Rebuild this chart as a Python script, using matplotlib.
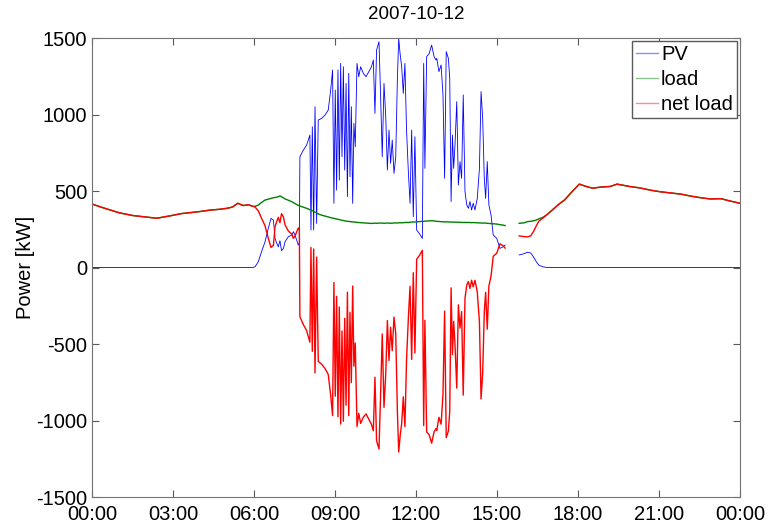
import numpy as np
import matplotlib
matplotlib.use("Agg")
import matplotlib.pyplot as plt

# Data (hours of day, kW)
hours = [
    0.0, 0.33, 0.67, 1.0, 1.5, 2.0, 2.4, 2.9, 3.3, 3.7,
    4.0, 4.4, 4.7, 5.0, 5.2, 5.4, 5.6, 5.8, 5.95,
    6.04, 6.16, 6.28, 6.41, 6.53, 6.63, 6.72, 6.78, 6.84, 6.90,
    6.96, 7.02, 7.09, 7.15, 7.27, 7.40, 7.46, 7.52, 7.58, 7.64, 7.68,
    7.70, 7.83, 7.95, 8.07, 8.11, 8.16, 8.21, 8.26, 8.32, 8.38,
    8.51, 8.63, 8.75, 8.84, 8.91, 8.96, 9.01, 9.06, 9.11, 9.16,
    9.21, 9.26, 9.31, 9.36, 9.41, 9.46, 9.51, 9.555, 9.605, 9.655,
    9.70, 9.75, 9.815, 9.88, 9.95, 10.05, 10.15, 10.25, 10.35, 10.42,
    10.48, 10.54, 10.63, 10.69, 10.75, 10.815, 10.88, 10.94, 11.00, 11.06,
    11.12, 11.185, 11.25, 11.31, 11.36, 11.41, 11.47, 11.53, 11.59, 11.65,
    11.72, 11.78, 11.84, 11.90, 11.96, 12.025, 12.12, 12.235, 12.285, 12.33,
    12.395, 12.49, 12.58, 12.67, 12.74, 12.77, 12.85, 12.93, 13.00, 13.06,
    13.12, 13.20, 13.25, 13.30, 13.35, 13.395, 13.445, 13.51, 13.57, 13.63,
    13.69, 13.75, 13.815, 13.88, 13.94, 14.00, 14.06, 14.12, 14.185, 14.27,
    14.35, 14.41, 14.47, 14.53, 14.58, 14.64, 14.70, 14.78, 14.86, 14.99,
    15.11, 15.235, 15.30,
    15.55,  # missing data
    15.82, 16.00, 16.13, 16.25, 16.35, 16.45, 16.55, 16.70, 16.85, 17.05,
    17.30, 17.50, 17.75, 18.05, 18.30, 18.55, 18.80, 19.20, 19.45, 19.90,
    20.30, 20.70, 21.05, 21.40, 21.80, 22.20, 22.55, 22.90, 23.30, 23.60,
    24.00,
]

pv_kw = [
    0, 0, 0, 0, 0, 0, 0, 0, 0, 0,
    0, 0, 0, 0, 0, 0, 0, 0, 0,
    5, 38, 103, 169, 256, 321, 310, 190, 160, 135,
    175, 110, 125, 169, 201, 212, 234, 212, 180, 147, 160,
    724, 768, 800, 866, 245, 920, 245, 1051, 288, 964,
    975, 996, 1029, 1160, 1291, 419, 1160, 506, 1291, 571,
    1334, 724, 1312, 637, 1203, 463, 1269, 593, 1051, 419,
    942, 789, 1334, 1247, 1312, 1269, 1247, 1280, 1312, 1356,
    1007, 1421, 1476, 1116, 724, 1203, 985, 637, 898, 680,
    833, 615, 724, 1225, 1498, 1399, 1312, 1138, 1334, 898,
    615, 419, 898, 332, 855, 245, 223, 190, 1334, 648,
    1378, 1399, 1454, 1378, 1356, 1367, 1280, 1324, 1128, 583,
    1411, 1367, 1237, 431, 866, 648, 801, 1084, 539, 692,
    583, 1128, 496, 409, 387, 431, 376, 420, 376, 452,
    648, 1150, 975, 583, 452, 692, 409, 343, 213, 191,
    125, 136, 147,
    np.nan,
    82, 90, 100, 95, 70, 40, 15, 5, 0, 0,
    0, 0, 0, 0, 0, 0, 0, 0, 0, 0,
    0, 0, 0, 0, 0, 0, 0, 0, 0, 0,
    0,
]

load_kw = [
    415, 395, 376, 358, 340, 330, 322, 338, 352, 360,
    366, 376, 380, 387, 395, 420, 405, 410, 400,
    400, 408, 425, 441, 447, 452, 456, 458, 460, 463,
    468, 462, 455, 448, 440, 430, 424, 418, 412, 406, 403,
    402, 394, 387, 378, 376, 372, 366, 362, 356, 350,
    342, 336, 330, 326, 323, 321, 319, 317, 315, 313,
    311, 309, 307, 305, 303, 302, 301, 300, 299, 298,
    297, 296, 295, 294, 293, 291, 290, 289, 288, 289,
    290, 289, 290, 291, 290, 289, 290, 291, 290, 289,
    290, 291, 292, 291, 292, 293, 292, 293, 294, 295,
    294, 296, 297, 298, 297, 299, 300, 302, 301, 303,
    304, 305, 306, 304, 303, 302, 301, 300, 299, 298,
    299, 298, 297, 298, 297, 296, 297, 296, 295, 296,
    295, 294, 295, 294, 295, 294, 293, 294, 293, 292,
    292, 291, 290, 291, 290, 289, 288, 287, 286, 284,
    280, 277, 274,
    np.nan,
    289, 292, 300, 302, 305, 310, 318, 328, 345, 376,
    415, 441, 490, 545, 530, 518, 525, 530, 545, 530,
    520, 505, 495, 488, 480, 466, 456, 448, 450, 436,
    420,
]

tick_hours = [0, 3, 6, 9, 12, 15, 18, 21, 24]
tick_labels = ["00:00", "03:00", "06:00", "09:00", "12:00", "15:00", "18:00", "21:00", "00:00"]

t = np.array(hours)
pv = np.array(pv_kw, dtype=float)
load = np.array(load_kw, dtype=float)
net = load - pv

plt.rcParams['font.family'] = ['Liberation Sans', 'DejaVu Sans']
plt.rcParams['axes.unicode_minus'] = False

fig = plt.figure(figsize=(7.68, 5.25), dpi=100)
ax = fig.add_axes([0.1198, 0.0533, 0.8437, 0.8743])

ax.plot(t, pv, color='#0000ff', lw=0.6, label='PV')
ax.plot(t, load, color='#008000', lw=1.0, label='load')
ax.plot(t, net, color='#ff0000', lw=1.0, label='net load')

ax.set_xlim(0, 24)
ax.set_ylim(-1500, 1500)
ax.set_xticks(tick_hours)
ax.set_xticklabels(tick_labels)
ax.set_yticks(np.arange(-1500, 1501, 500))
ax.tick_params(direction='in', top=True, right=True, length=5, labelsize=14.5, colors='0.35', labelcolor='black')
ax.tick_params(axis='x', pad=6)
for sp in ax.spines.values():
    sp.set_color('0.45')

ax.set_ylabel('Power [kW]', fontsize=14.5, labelpad=1)
ax.set_title('2007-10-12', fontsize=13.5, pad=14)

leg = ax.legend(loc='upper right', fontsize=14.5, fancybox=False, framealpha=1,
                edgecolor='0.35', handlelength=1.1, handletextpad=0.15,
                borderpad=0.2, labelspacing=0.3, borderaxespad=0.15)
for line in leg.get_lines():
    line.set_linewidth(1.0)
    line.set_alpha(0.45)

fig.savefig('out.png', dpi=100)
